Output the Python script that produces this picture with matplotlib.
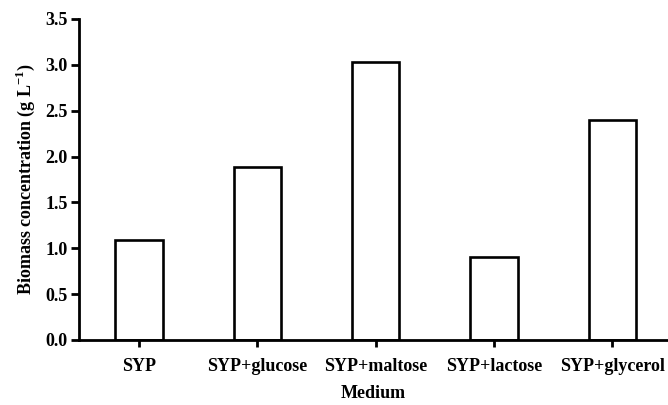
import numpy as np
import matplotlib.pyplot as plt

plt.rcParams['font.family'] = ['Liberation Serif', 'DejaVu Serif']
plt.rcParams['mathtext.fontset'] = 'custom'
plt.rcParams['mathtext.rm'] = 'Liberation Serif'
plt.rcParams['mathtext.bf'] = 'Liberation Serif:bold'

media = ["SYP", "SYP+glucose", "SYP+maltose", "SYP+lactose", "SYP+glycerol"]
biomass = [1.09, 1.89, 3.03, 0.91, 2.40]
yticks = [0.0, 0.5, 1.0, 1.5, 2.0, 2.5, 3.0, 3.5]

fig = plt.figure(figsize=(6.68, 4.05), dpi=100)
ax = fig.add_axes([0.1183, 0.1605, 0.8817, 0.7926])

x = np.arange(len(media))
ax.bar(x, biomass, width=0.40, color="white", edgecolor="black", linewidth=1.9)

ax.set_xlim(-0.507, 4.47)
ax.set_ylim(0, 3.5)
ax.set_yticks(yticks)
ax.set_yticklabels([f"{v:.1f}" for v in yticks], fontweight="bold", fontsize=13)
ax.set_xticks(x)
ax.set_xticklabels(media, fontsize=13, fontweight="bold")

for s in ["top", "right"]:
    ax.spines[s].set_visible(False)
for s in ["left", "bottom"]:
    ax.spines[s].set_linewidth(2.0)

ax.tick_params(axis="y", length=6, width=2.0, pad=2)
ax.tick_params(axis="x", length=5, width=2.0, pad=8)

ax.set_ylabel("Biomass concentration (g L$^{\\mathbf{-1}}$)", fontsize=13,
              fontweight="bold", labelpad=6)
ax.set_xlabel("Medium", fontsize=13, fontweight="bold", labelpad=7)

fig.savefig("out.png", dpi=100)
